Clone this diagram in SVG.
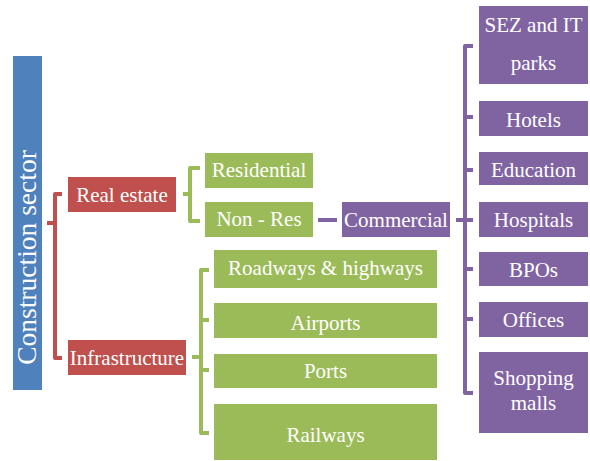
<svg xmlns="http://www.w3.org/2000/svg" width="590" height="461" viewBox="0 0 590 461">
<style>
text{font-family:"Liberation Serif","Times New Roman",serif;font-size:21px;fill:#fff;text-anchor:middle}
.blue{fill:#4F81BD}.red{fill:#C0504D}.green{fill:#9BBB59}.purple{fill:#8064A2}
.br{fill:none;stroke-width:4;stroke-linejoin:round}
.rb{stroke:#C0504D}.gb{stroke:#9BBB59}.pb{stroke:#8064A2}
</style>
<rect width="590" height="461" fill="#fff"/>
<g id="connectors">
<path class="br rb" d="M62,194 H55 V358 H62 M55,223 H47"/>
<path class="br gb" d="M200,168 H190 V221 H200 M190,194 H183"/>
<path class="br gb" d="M209,270 H201 V433 H209 M201,320 H209 M201,370 H209 M201,357 H192"/>
<path class="br pb" d="M318,220 H337"/>
<path class="br pb" d="M473,46 H465 V393 H473 M465,117 H473 M465,170 H473 M465,220 H473 M465,269 H473 M465,319 H473 M465,220 H456"/>
</g>
<g id="construction-sector"><rect class="blue" x="13" y="56" width="29" height="334"/><text transform="translate(35.5,257.5) rotate(-90)" style="font-size:27.5px">Construction sector</text></g>
<g id="real-estate"><rect class="red" x="68" y="177" width="108" height="35"/><text x="122" y="202">Real estate</text></g>
<g id="infrastructure"><rect class="red" x="68" y="340" width="118" height="35"/><text x="127" y="364.5">Infrastructure</text></g>
<g id="residential"><rect class="green" x="205" y="153" width="108" height="35"/><text x="259" y="176.5">Residential</text></g>
<g id="non-res"><rect class="green" x="205" y="202" width="108" height="35"/><text x="259" y="226">Non - Res</text></g>
<g id="commercial"><rect class="purple" x="342" y="202" width="108" height="35"/><text x="396" y="226.5">Commercial</text></g>
<g id="roadways"><rect class="green" x="214" y="250" width="223" height="38"/><text x="325.5" y="275">Roadways &amp; highways</text></g>
<g id="airports"><rect class="green" x="214" y="303" width="223" height="35"/><text x="325.5" y="330">Airports</text></g>
<g id="ports"><rect class="green" x="214" y="354" width="223" height="34"/><text x="325.5" y="377.5">Ports</text></g>
<g id="railways"><rect class="green" x="214" y="404" width="223" height="56"/><text x="325.5" y="441.5">Railways</text></g>
<g id="sez"><rect class="purple" x="479" y="6" width="109" height="78"/><text x="533.5" y="32">SEZ and IT</text><text x="533.5" y="70">parks</text></g>
<g id="hotels"><rect class="purple" x="479" y="101" width="109" height="35"/><text x="533.5" y="127">Hotels</text></g>
<g id="education"><rect class="purple" x="479" y="152" width="109" height="33"/><text x="533.5" y="177">Education</text></g>
<g id="hospitals"><rect class="purple" x="479" y="202" width="109" height="35"/><text x="533.5" y="227">Hospitals</text></g>
<g id="bpos"><rect class="purple" x="479" y="252" width="109" height="34"/><text x="533.5" y="277">BPOs</text></g>
<g id="offices"><rect class="purple" x="479" y="302" width="109" height="35"/><text x="533.5" y="327">Offices</text></g>
<g id="shopping-malls"><rect class="purple" x="479" y="352" width="109" height="81"/><text x="533.5" y="385">Shopping</text><text x="533.5" y="410">malls</text></g>
</svg>
